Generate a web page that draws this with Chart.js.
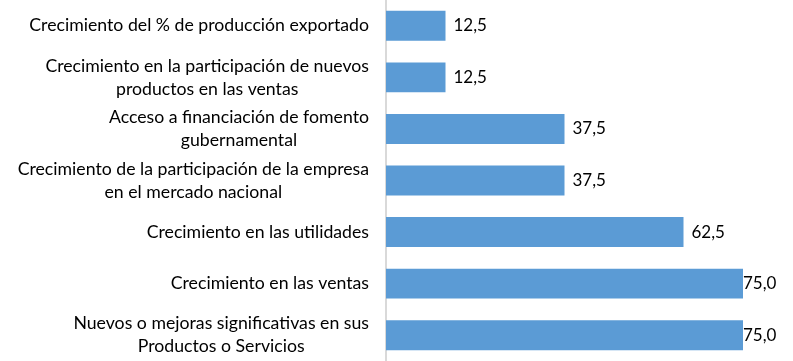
<!DOCTYPE html>
<html>
<head>
<meta charset="utf-8">
<script src="https://cdn.jsdelivr.net/npm/chart.js@4"></script>
<style>
  html, body { margin: 0; padding: 0; background: #fff; }
  #wrap { width: 793px; height: 361px; }
</style>
</head>
<body>
<div id="wrap"><canvas id="chart" width="793" height="361"></canvas></div>
<script>
// categorías y valores (%)
const categorias = [
    ["Crecimiento del % de producción exportado"],
    ["Crecimiento en la participación de nuevos", "productos en las ventas"],
    ["Acceso a financiación de fomento", "gubernamental"],
    ["Crecimiento de la participación de la empresa", "en el mercado nacional"],
    ["Crecimiento en las utilidades"],
    ["Crecimiento en las ventas"],
    ["Nuevos o mejoras significativas en sus", "Productos o Servicios"]
];
const valores = [12.5, 12.5, 37.5, 37.5, 62.5, 75.0, 75.0];

const FUENTE = "Lato, 'Open Sans', sans-serif";

// etiquetas del eje: bloque alineado a la derecha, líneas centradas
const etiquetasEje = {
    id: 'etiquetasEje',
    afterDraw(chart) {
        const ctx = chart.ctx;
        const y = chart.scales.y;
        ctx.save();
        ctx.font = "17.7px " + FUENTE;
        ctx.fillStyle = '#000';
        ctx.textBaseline = 'middle';
        ctx.textAlign = 'center';
        const derecha = chart.chartArea.left - 17;
        const alto = 23;
        categorias.forEach((lineas, i) => {
            const cy = y.getPixelForTick(i);
            const ancho = Math.max(...lineas.map(l => ctx.measureText(l).width));
            const cx = derecha - ancho / 2;
            const y0 = cy - (lineas.length - 1) * alto / 2;
            lineas.forEach((l, j) => ctx.fillText(l, cx, y0 + j * alto));
        });
        ctx.restore();
    }
};

// valores al final de cada barra
const etiquetasValor = {
    id: 'etiquetasValor',
    afterDatasetsDraw(chart) {
        const ctx = chart.ctx;
        ctx.save();
        ctx.font = "17px " + FUENTE;
        ctx.fillStyle = '#000';
        ctx.textBaseline = 'middle';
        ctx.textAlign = 'left';
        chart.getDatasetMeta(0).data.forEach((bar, i) => {
            const txt = valores[i].toFixed(1).replace('.', ',');
            const w = ctx.measureText(txt).width;
            let x = bar.x + 8;
            if (x + w > chart.width - 15) x = bar.x;
            ctx.fillText(txt, x, bar.y);
        });
        ctx.restore();
    }
};

new Chart(document.getElementById('chart'), {
    type: 'bar',
    data: {
        labels: categorias,
        datasets: [{
            data: valores,
            backgroundColor: '#5B9BD5',
            borderWidth: 0,
            barPercentage: 0.58,
            categoryPercentage: 1.0
        }]
    },
    options: {
        indexAxis: 'y',
        responsive: false,
        animation: false,
        layout: { padding: { top: 0, bottom: 0, right: 50, left: 0 } },
        plugins: {
            legend: { display: false },
            tooltip: { enabled: false }
        },
        scales: {
            x: {
                display: false,
                min: 0,
                max: 75
            },
            y: {
                grid: { display: false, drawTicks: false },
                border: { display: true, color: '#d9d9d9', width: 2 },
                ticks: { display: false },
                afterFit(scale) { scale.width = 386; }
            }
        }
    },
    plugins: [etiquetasEje, etiquetasValor]
});
</script>
</body>
</html>
